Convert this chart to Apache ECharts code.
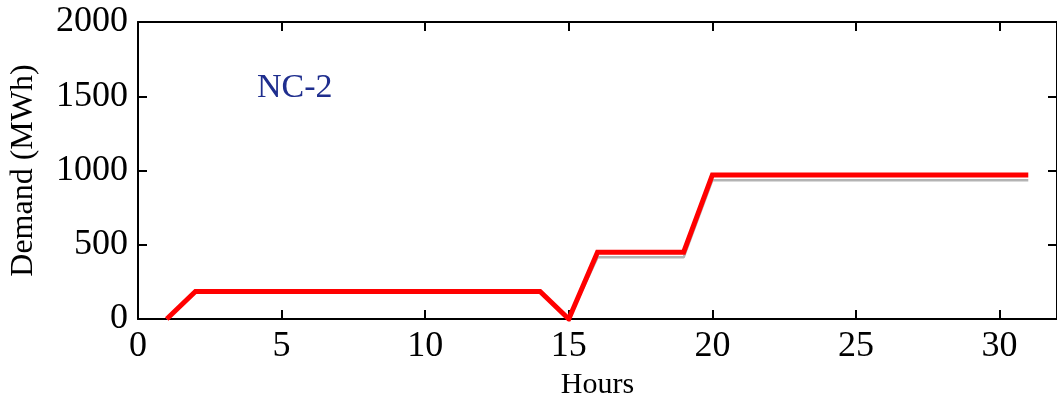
<!DOCTYPE html>
<html>
<head>
<meta charset="utf-8">
<script src="https://cdn.jsdelivr.net/npm/echarts@6/dist/echarts.min.js"></script>
<style>
html,body{margin:0;padding:0;background:#fff;}
#chart{width:1057px;height:398px;}
</style>
</head>
<body>
<div id="chart"></div>
<script>
// Hourly demand profile for NC-2
const hours = [1,2,3,4,5,6,7,8,9,10,11,12,13,14,15,16,17,18,19,20,21,22,23,24,25,26,27,28,29,30,31];
const demandA = [0,185,185,185,185,185,185,185,185,185,185,185,185,185,0,450,450,450,450,970,970,970,970,970,970,970,970,970,970,970,970];
const demandB = [0,185,185,185,185,185,185,185,185,185,185,185,185,185,0,415,415,415,415,935,935,935,935,935,935,935,935,935,935,935,935];
const xTicks = [0,5,10,15,20,25,30];
const yTicks = [0,500,1000,1500,2000];

const serif = '"Liberation Serif","DejaVu Serif",serif';
const axisLine = {show:true, onZero:false, lineStyle:{color:'#000', width:2}};
const tickIn = {show:true, inside:true, length:9, lineStyle:{color:'#000', width:2}};

const chart = echarts.init(document.getElementById('chart'));
chart.setOption({
  animation:false,
  backgroundColor:'#fff',
  grid:{left:138, right:0, top:22, bottom:79, containLabel:false, outerBoundsMode:'none'},
  title:{text:'NC-2', left:252, top:66, textStyle:{fontFamily:serif, fontSize:34, fontWeight:'normal', color:'#1f2e8e'}},
  xAxis:[{
    type:'value', min:0, max:32, interval:5,
    name:'Hours', nameLocation:'middle', nameGap:49,
    nameTextStyle:{fontFamily:serif, fontSize:30, color:'#000'},
    axisLine:axisLine, axisTick:tickIn,
    axisLabel:{fontFamily:serif, fontSize:36, color:'#000', margin:10, showMaxLabel:false,
      formatter:v=>xTicks.includes(v)?String(v):''},
    splitLine:{show:false}
  },{
    type:'value', position:'top', min:0, max:32, interval:5,
    axisLine:axisLine, axisTick:tickIn, axisLabel:{show:false}, splitLine:{show:false}
  }],
  yAxis:[{
    type:'value', min:0, max:2000, interval:500,
    name:'Demand (MWh)', nameLocation:'middle', nameGap:98,
    nameTextStyle:{fontFamily:serif, fontSize:32, color:'#000'},
    axisLine:axisLine, axisTick:tickIn,
    axisLabel:{fontFamily:serif, fontSize:36, color:'#000', margin:10,
      formatter:v=>yTicks.includes(v)?String(v):''},
    splitLine:{show:false}
  },{
    type:'value', position:'right', min:0, max:2000, interval:500,
    axisLine:axisLine, axisTick:tickIn, axisLabel:{show:false}, splitLine:{show:false}
  }],
  series:[{
    type:'line', data:hours.map((h,i)=>[h,demandB[i]]), symbol:'none',
    lineStyle:{color:'#b3b3b3', width:2.5}, z:2
  },{
    type:'line', data:hours.map((h,i)=>[h,demandA[i]]), symbol:'none',
    lineStyle:{color:'#ff0000', width:5, join:'miter'}, z:3
  }]
});
</script>
</body>
</html>
